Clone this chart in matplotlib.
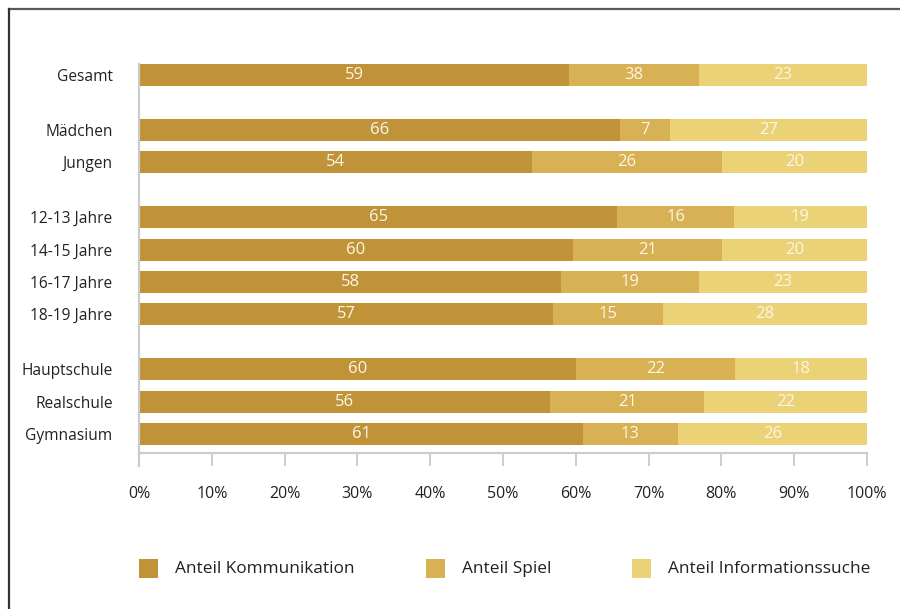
import matplotlib
matplotlib.use("Agg")
import matplotlib.pyplot as plt
from matplotlib.patches import Rectangle
from matplotlib.lines import Line2D

plt.rcParams['font.family'] = ['Open Sans', 'DejaVu Sans']

categories = ["Gesamt", "Mädchen", "Jungen", "12-13 Jahre", "14-15 Jahre",
              "16-17 Jahre", "18-19 Jahre", "Hauptschule", "Realschule", "Gymnasium"]
# segment widths (percent of bar)
komm_share = [59.1, 66.1, 54.0, 65.7, 59.6, 58.0, 56.9, 60.0, 56.5, 61.0]
spiel_share = [17.8, 6.8, 26.1, 16.0, 20.5, 18.9, 15.1, 21.9, 21.1, 13.0]
info_share = [23.1, 27.1, 19.9, 18.3, 19.9, 23.1, 28.0, 18.1, 22.4, 26.0]
# printed labels
komm_labels = [59, 66, 54, 65, 60, 58, 57, 60, 56, 61]
spiel_labels = [38, 7, 26, 16, 21, 19, 15, 22, 21, 13]
info_labels = [23, 27, 20, 19, 20, 23, 28, 18, 22, 26]
series_names = ["Anteil Kommunikation", "Anteil Spiel", "Anteil Informationssuche"]
xtick_labels = ["0%", "10%", "20%", "30%", "40%", "50%", "60%", "70%", "80%", "90%", "100%"]

colors = ["#C09338", "#D8B154", "#EBD276"]
W, H = 900, 609
fig = plt.figure(figsize=(W / 100, H / 100), dpi=100)

# layout positions (group gaps)
group_of = [0, 1, 1, 2, 2, 2, 2, 3, 3, 3]
gap = 0.7
ypos = [i + gap * g for i, g in enumerate(group_of)]
px_per_unit = (434 - 75) / ypos[-1]

ax = fig.add_axes([139 / W, 1 - 453 / H, (867 - 139) / W, (453 - 64) / H])
bar_h = 22 / px_per_unit
shares = [komm_share, spiel_share, info_share]
labels = [komm_labels, spiel_labels, info_labels]
left = [0.0] * len(categories)
for s, (vals, labs, c) in enumerate(zip(shares, labels, colors)):
    ax.barh(ypos, vals, left=left, height=bar_h, color=c, edgecolor='none')
    for y, l0, v, lab in zip(ypos, left, vals, labs):
        ax.text(l0 + v / 2, y, str(lab), ha='center', va='center',
                color='#FBF6E6', fontsize=12)
    left = [a + b for a, b in zip(left, vals)]

ax.set_xlim(0, 100)
ax.set_ylim(ypos[-1] + (453 - 434) / px_per_unit, -bar_h / 2)
ax.set_yticks(ypos)
ax.set_yticklabels(categories, fontsize=11.2, color='#222222')
ax.tick_params(axis='y', length=0, pad=19)
ax.set_xticks(range(0, 101, 10))
ax.set_xticklabels(xtick_labels, fontsize=11.5, color='#222222')
ax.tick_params(axis='x', length=9, width=1.4, color='#cccccc', pad=14.5)
for sp in ['top', 'right']:
    ax.spines[sp].set_visible(False)
for sp in ['left', 'bottom']:
    ax.spines[sp].set_color('#cccccc')
    ax.spines[sp].set_linewidth(1.6)

# left spine extension down to tick length
fig.add_artist(Line2D([139 / W, 139 / W], [1 - 466 / H, 1 - 453 / H],
                      color='#cccccc', lw=1.6))

# frame lines
fig.add_artist(Line2D([9 / W, 1.0], [1 - 9 / H, 1 - 9 / H], color='#5a5a5a', lw=1.6))
fig.add_artist(Line2D([9 / W, 9 / W], [0, 1 - 9 / H], color='#333333', lw=1.6))

# legend
leg_x = [139, 426, 632]
for x, name, c in zip(leg_x, series_names, colors):
    fig.add_artist(Rectangle((x / W, 1 - 578 / H), 19 / W, 19 / H,
                             transform=fig.transFigure, color=c, lw=0))
    fig.text((x + 36) / W, 1 - 569 / H, name, ha='left', va='center',
             fontsize=12.4, color='#222222')

fig.savefig("out.png", dpi=100, facecolor='white')
